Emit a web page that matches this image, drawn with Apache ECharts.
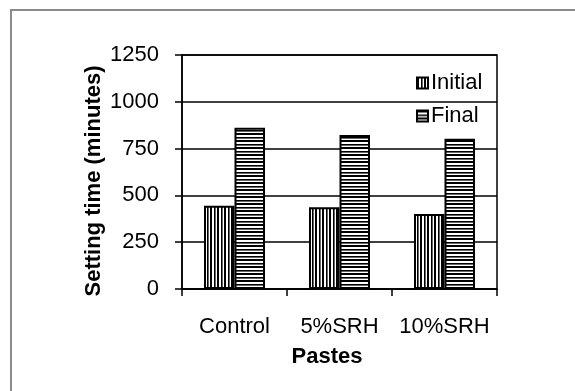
<!DOCTYPE html>
<html>
<head>
<meta charset="utf-8">
<script src="https://cdn.jsdelivr.net/npm/echarts@6/dist/echarts.min.js"></script>
<style>
  html, body { margin: 0; padding: 0; background: #fff; }
  #chart { width: 575px; height: 391px; }
</style>
</head>
<body>
<div id="chart"></div>
<script>
// Setting time of the pastes (minutes)
const categories = ['Control', '5%SRH', '10%SRH'];
const initialTimes = [445, 437, 400];
const finalTimes = [862, 823, 802];
const yTicks = { min: 0, max: 1250, interval: 250 };

// Striped fills: vertical lines for "Initial", horizontal lines for "Final"
function stripeTile(vertical) {
  const shades = ['#000', '#000', '#fff', '#fff', '#000', '#666', '#fff'];
  const c = document.createElement('canvas');
  c.width = vertical ? shades.length : 1;
  c.height = vertical ? 1 : shades.length;
  const ctx = c.getContext('2d');
  shades.forEach((s, i) => {
    ctx.fillStyle = s;
    if (vertical) ctx.fillRect(i, 0, 1, 1); else ctx.fillRect(0, i, 1, 1);
  });
  return { image: c, repeat: 'repeat' };
}

const font = '"Liberation Sans", Arial, sans-serif';
const chart = echarts.init(document.getElementById('chart'), null, { renderer: 'canvas' });

chart.setOption({
  animation: false,
  backgroundColor: '#fff',
  grid: {
    left: 182, right: 78, top: 55, bottom: 102,
    show: true, borderColor: '#000', borderWidth: 1.5, backgroundColor: 'transparent'
  },
  legend: {
    orient: 'vertical',
    left: 411, top: 67,
    itemWidth: 11, itemHeight: 11, itemGap: 11,
    icon: 'rect',
    textStyle: { fontFamily: font, fontSize: 22, color: '#000', padding: [0, 0, 0, -2] },
    data: ['Initial', 'Final']
  },
  xAxis: {
    type: 'category',
    data: categories,
    axisLine: { lineStyle: { color: '#000', width: 1.5 } },
    axisTick: { show: true, length: 7, lineStyle: { color: '#000', width: 1.5 } },
    axisLabel: { interval: 0, fontFamily: font, fontSize: 22, color: '#000', margin: 27 }
  },
  yAxis: {
    type: 'value',
    min: yTicks.min, max: yTicks.max, interval: yTicks.interval,
    axisLine: { show: true, lineStyle: { color: '#000', width: 1.5 } },
    axisTick: { show: true, length: 7, lineStyle: { color: '#000', width: 1.5 } },
    splitLine: { lineStyle: { color: '#000', width: 1.5 } },
    axisLabel: {
      fontFamily: font, fontSize: 22, color: '#000', margin: 23,
      formatter: v => String(v)
    }
  },
  series: [
    {
      name: 'Initial', type: 'bar', data: initialTimes,
      barWidth: 30.5, barGap: '0%',
      itemStyle: { color: stripeTile(true), borderColor: '#000', borderWidth: 2 }
    },
    {
      name: 'Final', type: 'bar', data: finalTimes,
      barWidth: 30.5, barGap: '0%',
      itemStyle: { color: stripeTile(false), borderColor: '#000', borderWidth: 2 }
    }
  ],
  graphic: [
    {
      type: 'rect', silent: true, z: -1,
      shape: { x: 11, y: 10, width: 600, height: 400 },
      style: { fill: 'none', stroke: '#8a8a8a', lineWidth: 2 }
    },
    {
      type: 'text', x: 94, y: 181, rotation: Math.PI / 2,
      style: {
        text: 'Setting time (minutes)', fontFamily: font, fontSize: 22, fontWeight: 'bold',
        fill: '#000', align: 'center', verticalAlign: 'middle'
      }
    },
    {
      type: 'text', x: 327, y: 357,
      style: {
        text: 'Pastes', fontFamily: font, fontSize: 22, fontWeight: 'bold',
        fill: '#000', align: 'center', verticalAlign: 'middle'
      }
    }
  ]
});
</script>
</body>
</html>
